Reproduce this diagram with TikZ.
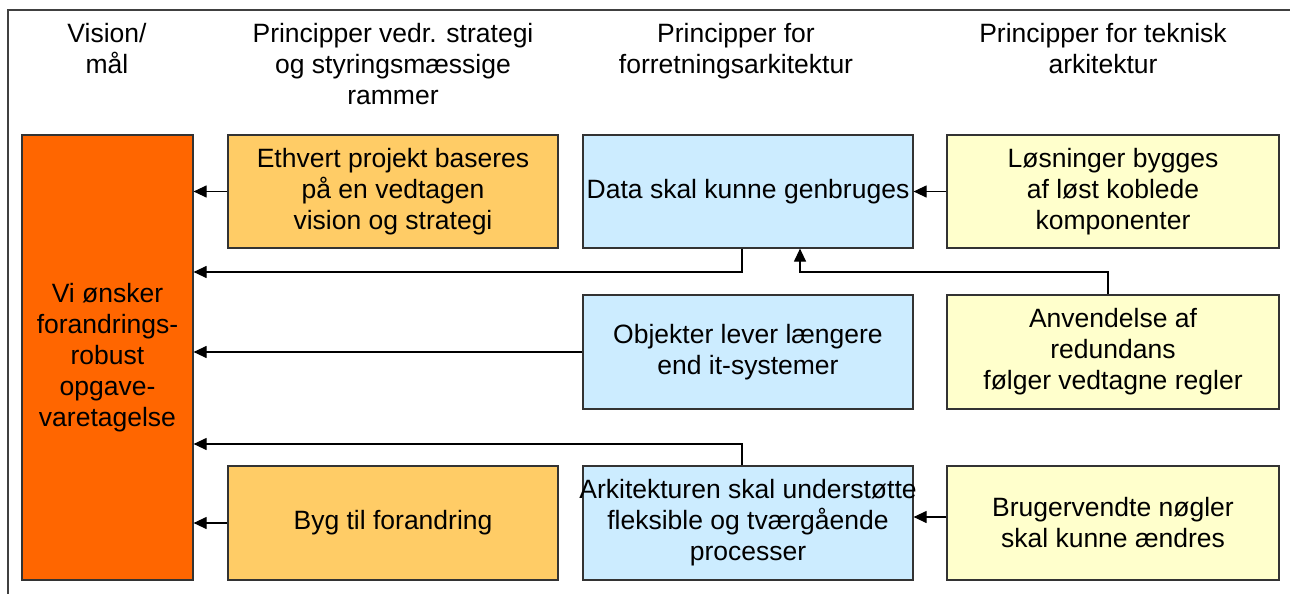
\documentclass[tikz,border=0pt]{standalone}
\usepackage{fontspec}
\setmainfont{Liberation Sans}
\usetikzlibrary{arrows.meta}
\definecolor{visorange}{HTML}{FF6600}
\definecolor{stratorange}{HTML}{FFCC66}
\definecolor{forrblue}{HTML}{CCECFF}
\definecolor{tekyellow}{HTML}{FFFFCC}
\definecolor{framegray}{HTML}{404040}
\begin{document}
\begin{tikzpicture}[x=1pt,y=-1pt,
  every node/.style={font=\fontsize{26.5}{31}\selectfont},
  box/.style={draw=black!80, line width=1.2pt, minimum width=330pt, minimum height=113pt, align=center, inner sep=0pt},
  hdr/.style={align=center, inner sep=0pt, anchor=north},
  arr/.style={-{Triangle[length=13pt,width=12pt]}, line width=1.2pt, black},
  frameline/.style={draw=framegray, line width=2pt}]
\useasboundingbox (0,0) rectangle (1290,594);
\draw[frameline] (8,594) -- (8,10) -- (1290,10);

% headers
\node[hdr] (h1) at (107,23) {Vision/\\mål};
\node[hdr] (h2) at (393,23) {Principper vedr. strategi\\og styringsmæssige\\rammer};
\node[hdr] (h3) at (736,23) {Principper for\\forretningsarkitektur};
\node[hdr] (h4) at (1103,23) {Principper for teknisk\\arkitektur};

% boxes
\node[box, fill=visorange, minimum width=171pt, minimum height=445pt] (vis) at (107.5,357.5) {Vi ønsker\\forandrings-\\robust\\opgave-\\varetagelse};
\node[box, fill=stratorange] (eth) at (393,191.5) {Ethvert projekt baseres\\på en vedtagen\\vision og strategi};
\node[box, fill=stratorange, minimum height=114pt] (byg) at (393,523) {Byg til forandring};
\node[box, fill=forrblue] (data) at (748,191.5) {Data skal kunne genbruges};
\node[box, fill=forrblue, minimum height=114pt] (obj) at (748,352) {Objekter lever længere\\end it-systemer};
\node[box, fill=forrblue, minimum height=114pt] (ark) at (748,523) {\makebox[300pt][c]{Arkitekturen skal understøtte}\\fleksible og tværgående\\processer};
\node[box, fill=tekyellow, minimum width=332pt] (los) at (1113,191.5) {Løsninger bygges\\af løst koblede\\komponenter};
\node[box, fill=tekyellow, minimum width=332pt, minimum height=114pt] (anv) at (1113,352) {Anvendelse af\\redundans\\følger vedtagne regler};
\node[box, fill=tekyellow, minimum width=332pt, minimum height=114pt] (brug) at (1113,523) {Brugervendte nøgler\\skal kunne ændres};

% junction coordinates
\coordinate (j1) at (742,272);
\coordinate (j2) at (742,444);
\coordinate (j3) at (1108,272);
\coordinate (j4) at (800,272);
\coordinate (j5) at (930,517);

% connectors
\draw[arr] (eth.west) -- (vis.east |- eth.west);
\draw[arr] (data.south -| j1) -- (j1) -- (vis.east |- j1);
\draw[arr] (obj.west) -- (vis.east |- obj.west);
\draw[arr] (ark.north -| j2) -- (j2) -- (vis.east |- j2);
\draw[arr] (byg.west) -- (vis.east |- byg.west);
\draw[arr] (los.west) -- (data.east |- los.west);
\draw[arr] (anv.north -| j3) -- (j3) -- (j4) -- (data.south -| j4);
\draw[arr] (brug.west |- j5) -- (ark.east |- j5);
\end{tikzpicture}
\end{document}
